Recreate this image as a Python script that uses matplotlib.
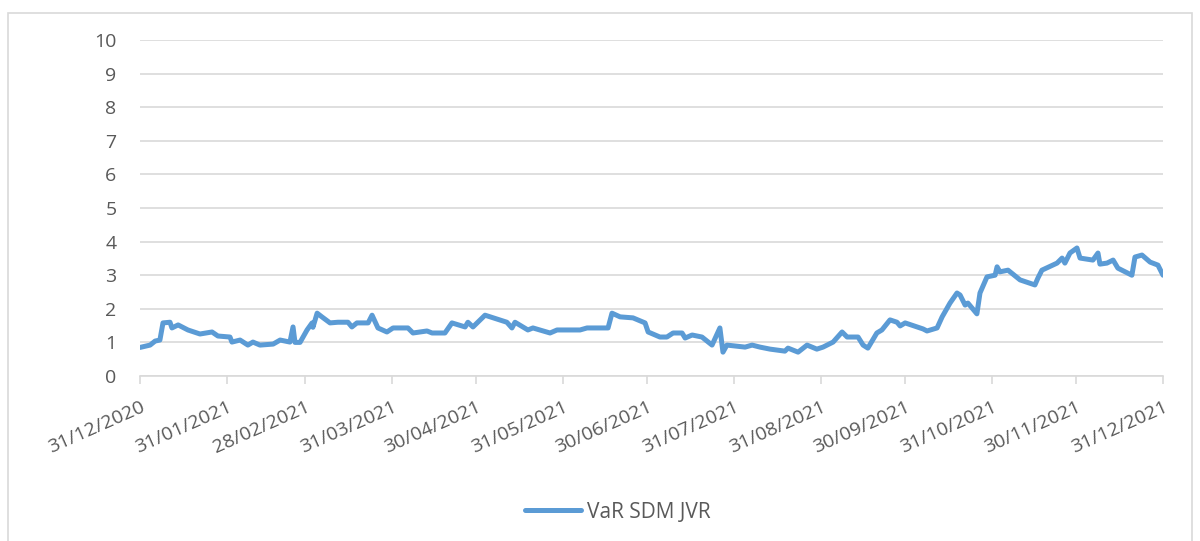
import matplotlib
matplotlib.use("Agg")
import matplotlib.pyplot as plt
from matplotlib.patches import Rectangle
import pandas as pd

# Day offsets from 31/12/2020 and VaR values
day_offsets = [0, 3.6, 5.4, 7.1, 8.2, 10.7, 11.4, 13.6, 17.1, 21.4, 25.7, 27.8, 32.1, 32.8,
               35.7, 38.5, 40.3, 42.8, 47.5, 50.0, 53.5, 54.6, 55.3, 57.1, 59.6, 61.4, 61.7,
               63.2, 64.9, 67.8, 70.6, 74.2, 75.6, 77.4, 81.4, 82.8, 84.9, 88.1, 90.3, 95.6,
               97.4, 102.4, 104.2, 108.8, 111.3, 116.0, 117.0, 118.8, 123.1, 130.9, 132.7,
               133.8, 138.4, 140.2, 146.3, 148.8, 157.0, 159.5, 167.0, 168.4, 171.3, 175.9,
               180.2, 181.3, 185.5, 188.0, 190.2, 193.4, 194.5, 197.0, 200.5, 204.1, 206.9,
               208.0, 209.4, 215.9, 218.4, 221.2, 224.8, 230.1, 231.2, 234.8, 238.0, 241.5,
               243.7, 247.3, 250.5, 252.3, 256.2, 258.0, 259.7, 262.9, 264.7, 267.6, 270.1,
               271.2, 273.0, 279.4, 280.8, 284.4, 286.2, 289.0, 291.5, 292.6, 294.4, 295.4,
               298.6, 299.7, 302.2, 305.1, 305.8, 306.8, 309.7, 314.0, 319.3, 320.4, 321.8,
               327.2, 329.0, 330.0, 331.8, 334.3, 335.4, 340.0, 341.8, 342.5, 345.0, 347.2,
               348.9, 353.9, 355.0, 357.5, 360.4, 363.2, 365.0]
var_values = [0.85, 0.92, 1.04, 1.07, 1.58, 1.60, 1.43, 1.52, 1.37, 1.25, 1.31, 1.19, 1.16, 1.01,
              1.07, 0.92, 1.01, 0.92, 0.95, 1.07, 1.01, 1.46, 1.00, 1.00, 1.37, 1.58, 1.45,
              1.87, 1.76, 1.58, 1.60, 1.60, 1.46, 1.58, 1.58, 1.81, 1.43, 1.31, 1.43, 1.43,
              1.28, 1.34, 1.28, 1.28, 1.58, 1.46, 1.60, 1.46, 1.81, 1.60, 1.43,
              1.60, 1.37, 1.43, 1.28, 1.37, 1.37, 1.43, 1.43, 1.87, 1.76, 1.73,
              1.58, 1.31, 1.16, 1.16, 1.28, 1.28, 1.13, 1.22, 1.16, 0.92, 1.43,
              0.71, 0.92, 0.86, 0.92, 0.86, 0.80, 0.74, 0.83, 0.71, 0.92, 0.80,
              0.86, 1.01, 1.31, 1.16, 1.16, 0.92, 0.83, 1.28, 1.37, 1.67, 1.60,
              1.49, 1.58, 1.40, 1.34, 1.43, 1.76, 2.17, 2.47, 2.41, 2.11, 2.17,
              1.85, 2.47, 2.95, 3.00, 3.25, 3.10, 3.15, 2.86, 2.71, 2.92, 3.15,
              3.36, 3.51, 3.36, 3.66, 3.81, 3.51, 3.45, 3.66, 3.33, 3.36, 3.45,
              3.21, 3.00, 3.54, 3.60, 3.39, 3.30, 3.00]

tick_labels = ["31/12/2020", "31/01/2021", "28/02/2021", "31/03/2021", "30/04/2021",
               "31/05/2021", "30/06/2021", "31/07/2021", "31/08/2021", "30/09/2021",
               "31/10/2021", "30/11/2021", "31/12/2021"]
y_ticks = list(range(0, 11))
series_name = "VaR SDM JVR"

start = pd.Timestamp("2020-12-31")
dates = start + pd.to_timedelta(day_offsets, unit="D")
tick_dates = pd.to_datetime(tick_labels, format="%d/%m/%Y")

plt.rcParams['font.family'] = ['Open Sans', 'DejaVu Sans']

W, H = 1200, 541
fig = plt.figure(figsize=(W / 100, H / 100), dpi=100)
fig.patches.append(Rectangle((8 / W, -0.02), (1192 - 8) / W, 1.02 - 13 / H,
                             transform=fig.transFigure, fill=False,
                             edgecolor="#D9D9D9", linewidth=1.2))
ax = fig.add_axes([140 / W, 1 - 376 / H, (1163 - 140) / W, (376 - 40) / H])

ax.plot(dates, var_values, color="#5B9BD5", linewidth=3.6, solid_joinstyle="round",
        solid_capstyle="round", label=series_name, zorder=3)

ax.set_xlim(start, pd.Timestamp("2021-12-31"))
ax.set_ylim(0, 10)
ax.set_yticks(y_ticks)
ax.set_xticks(tick_dates)
ax.set_xticklabels(tick_labels, rotation=24, ha="right", rotation_mode="anchor")
ax.grid(axis="y", color="#D9D9D9", linewidth=1.2)
ax.set_axisbelow(True)
for s in ["top", "right", "left"]:
    ax.spines[s].set_visible(False)
ax.spines["bottom"].set_color("#D9D9D9")
ax.spines["bottom"].set_linewidth(1.2)
ax.tick_params(axis="y", length=0, pad=17, labelsize=14, labelcolor="#595959")
ax.tick_params(axis="x", length=6, color="#D9D9D9", width=1.2, pad=10, labelsize=14,
               labelcolor="#595959")

fig.legend(loc="center", bbox_to_anchor=(0.515, 1 - 512 / H), frameon=False,
           fontsize=15, handlelength=2.7, handletextpad=0.3, labelcolor="#595959")

fig.savefig("out.png", dpi=100)
